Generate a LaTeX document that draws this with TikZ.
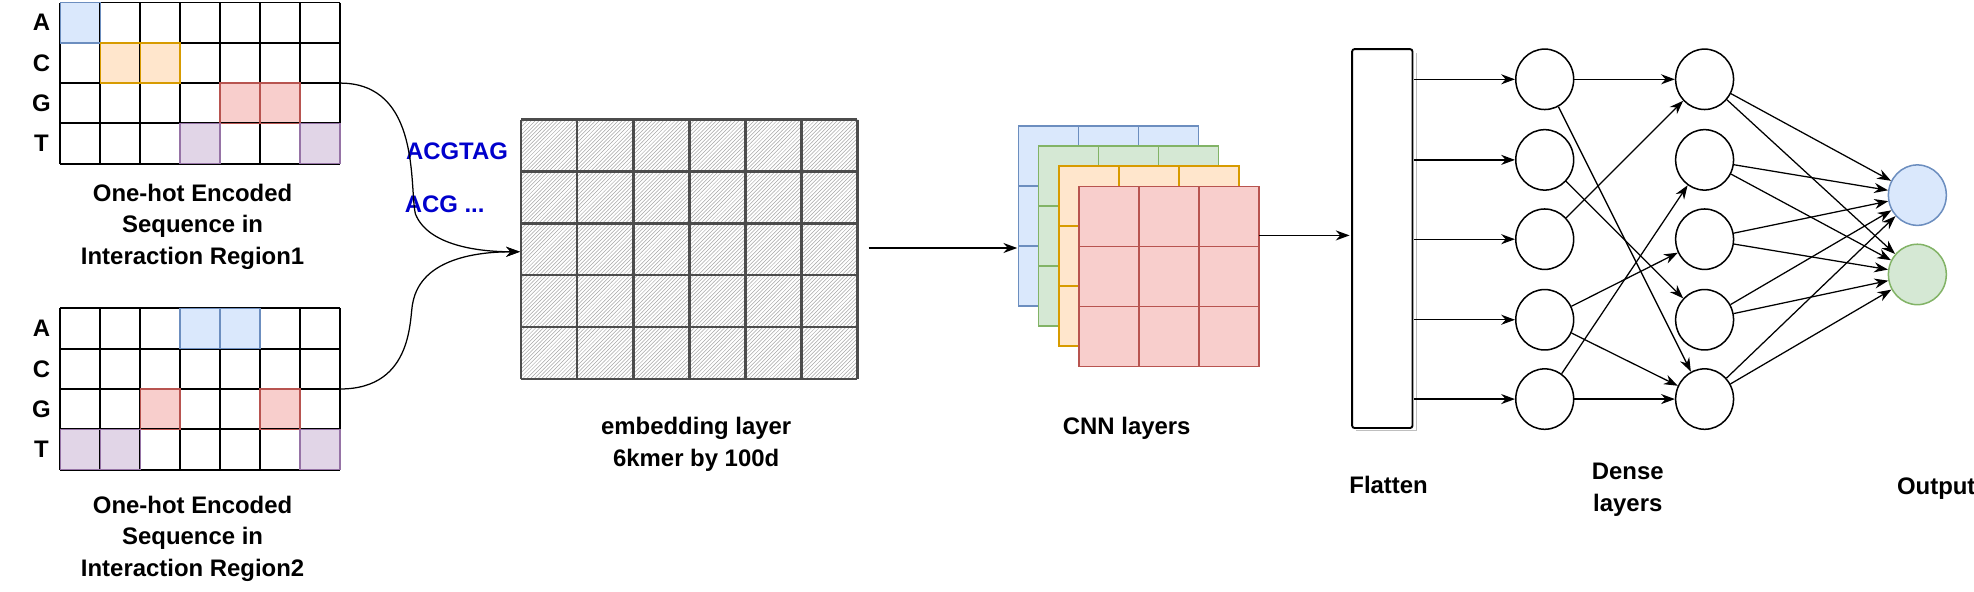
\documentclass[tikz,border=0pt]{standalone}
\usepackage{fontspec}
\setmainfont{Liberation Sans}
\usetikzlibrary{patterns,arrows.meta,shapes.geometric}
\definecolor{bF}{HTML}{DAE8FC}\definecolor{bD}{HTML}{6C8EBF}
\definecolor{oF}{HTML}{FFE6CC}\definecolor{oD}{HTML}{D79B00}
\definecolor{rF}{HTML}{F8CECC}\definecolor{rD}{HTML}{B85450}
\definecolor{pF}{HTML}{E1D5E7}\definecolor{pD}{HTML}{9673A6}
\definecolor{gF}{HTML}{D5E8D4}\definecolor{gD}{HTML}{82B366}
\begin{document}
\begin{tikzpicture}[x=1pt,y=-1pt,
  lbl/.style={font=\fontsize{19}{25}\selectfont\bfseries,align=center},
  arr/.style={-{Stealth[length=11pt,width=8pt]},line width=1pt},
  neu/.style={draw,line width=1.2pt,ellipse,minimum width=46pt,minimum height=48pt,inner sep=0pt},
  cellA/.style={fill=bF,draw=bD},cellC/.style={fill=oF,draw=oD},
  cellG/.style={fill=rF,draw=rD},cellT/.style={fill=pF,draw=pD}]
\useasboundingbox (0,0) rectangle (1568,470);
% grids
\foreach \gy/\cells in {2/{1/A/1,2/C/2,3/C/2,5/G/3,6/G/3,4/T/4,7/T/4},245/{4/A/1,5/A/1,3/G/3,6/G/3,1/T/4,2/T/4,7/T/4}}{
  \foreach \c/\k/\r in \cells {
    \fill[cell\k] ({48+(\c-1)*31.71},{\gy+(\r-1)*32}) rectangle ++(31.71,32);}
  \foreach \i in {0,...,7} \draw[line width=1.5pt] ({48+\i*31.71},\gy) -- ++(0,128);
  \foreach \j in {0,...,4} \draw[line width=1.5pt] (48,{\gy+\j*32}) -- ++(222,0);
  \foreach \k/\r in {A/1,C/2,G/3,T/4}
    \node[lbl] at (33,{\gy+\r*32-16}) {\k};
  \foreach \c/\k/\r in \cells {
    \draw[cell\k,fill=none,line width=1.2pt] ({48+(\c-1)*31.71},{\gy+(\r-1)*32}) rectangle ++(31.71,32);}
}
\coordinate (g1) at (270,66);
\coordinate (g2) at (270,309);
\node[lbl] (cap1) at (153,180) {One-hot Encoded\\Sequence in\\Interaction Region1};
\node[lbl] (cap2) at (153,428) {One-hot Encoded\\Sequence in\\Interaction Region2};
% embedding
\fill[pattern=north east lines,pattern color=gray!70] (414,95) rectangle (681,301);
\foreach \i in {0,...,6} \draw[line width=2pt,gray!60!black] ({414+\i*44.5},95) -- ++(0,206);
\foreach \j in {0,...,5} \draw[line width=2pt,gray!60!black] (414,{95+\j*41.2}) -- ++(267,0);
\coordinate (emb) at (413,200);
\node[lbl,text=blue!80!black] (t1) at (363,120) {ACGTAG};
\node[lbl,text=blue!80!black,anchor=west] (t2) at (318,162) {ACG ...};
\draw[arr] (g1) .. controls (335,66) and (325,150) .. (330,170) .. controls (340,195) and (380,200) .. (emb);
\draw[arr] (g2) .. controls (330,309) and (325,250) .. (328,240) .. controls (335,205) and (380,200) .. (emb);
\node[lbl] (embl) at (553,353) {embedding layer\\6kmer by 100d};
% CNN
\foreach \i/\k in {0/b,1/g,2/o,3/r}{
  \filldraw[fill=\k F,draw=\k D,line width=1.2pt] ({809+16*\i},{100+16*\i}) rectangle ++(143,143);
  \foreach \t in {1,2}{
    \draw[\k D,line width=1.2pt] ({809+16*\i+\t*47.67},{100+16*\i}) -- ++(0,143);
    \draw[\k D,line width=1.2pt] ({809+16*\i},{100+16*\i+\t*47.67}) -- ++(143,0);}}
\node[lbl] (cnnl) at (895,340) {CNN layers};
\coordinate (cnnin) at (808,197);
\coordinate (cnnout) at (1000,187);
\draw[arr] (690,197) -- (cnnin);
% flatten
\draw[line width=1.5pt,rounded corners=2pt] (1074,39) rectangle (1122,340);
\draw[gray!50,line width=1pt] (1077,342) -- (1125,342) -- (1125,42);
\coordinate (fl) at (1072,187);
\draw[arr] (cnnout) -- (fl);
\node[lbl] (fll) at (1103,385) {Flatten};
% neurons
\foreach \i/\y in {1/63,2/127,3/190,4/254,5/317}{
  \node[neu] (a\i) at (1227,\y) {};
  \node[neu] (b\i) at (1354,\y) {};
  \draw[arr] (1123,\y) -- (a\i);}
\node[neu,fill=bF,draw=bD] (o1) at (1523,155) {};
\node[neu,fill=gF,draw=gD] (o2) at (1523,218) {};
\foreach \s/\t in {1/1,1/5,2/4,3/1,4/3,4/5,5/2,5/5}
  \draw[arr] (a\s) -- (b\t);
\foreach \s in {1,...,5}{\draw[arr] (b\s) -- (o1); \draw[arr] (b\s) -- (o2);}
\node[lbl] (dl) at (1293,389) {Dense\\layers};
\node[lbl] (ol) at (1538,388) {Output};
\end{tikzpicture}
\end{document}
